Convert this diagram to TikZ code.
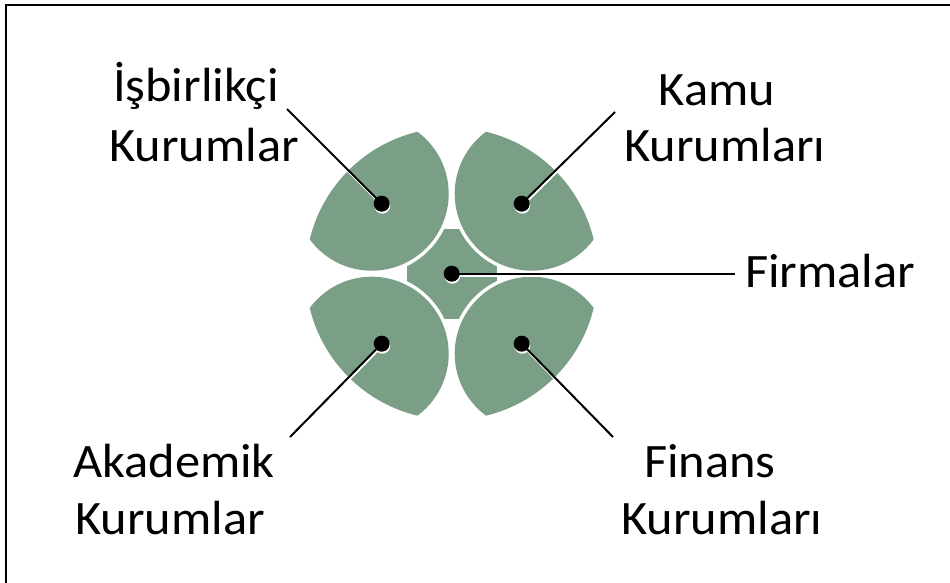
\documentclass[tikz,border=0pt]{standalone}
\usepackage{fontspec}
\setmainfont{Carlito}[FakeStretch=1.05]
\usetikzlibrary{calc}
\definecolor{petal}{HTML}{7A9F86}
\begin{document}
\begin{tikzpicture}[x=1pt,y=-1pt,
  lbl/.style={font=\fontsize{48}{57}\selectfont, inner sep=0pt, anchor=base},
  dot/.style={circle, fill=black, minimum size=16pt, inner sep=0pt},
  dotshade/.style={circle, fill=white, minimum size=16pt, inner sep=0pt},
  leader/.style={line width=2pt, black},
  leadershade/.style={line width=2pt, white}]
\useasboundingbox (0,0) rectangle (950,583);
% frame edges
\draw[line width=2pt] (5.7,583) -- (5.7,5) -- (950,5);
\coordinate (C) at (451.7,273.7);
% centre shape: square with four concave cut-outs
\fill[petal] ($(C)+(-45,-45)$) rectangle ($(C)+(45,45)$);
% four petals, each a disk trimmed by the outer circle
\foreach \sx/\sy in {-1/-1,1/-1,-1/1,1/1}{
  \fill[white] ($(C)+(\sx*80,\sy*80)$) circle (80.5pt);
  \begin{scope}
    \clip (C) circle (146pt);
    \fill[petal] ($(C)+(\sx*80,\sy*80)$) circle (77pt);
  \end{scope}
}
% anchor points
\coordinate (pTL) at ($(C)+(-70,-70)$);
\coordinate (pTR) at ($(C)+(70,-70)$);
\coordinate (pBL) at ($(C)+(-70,70)$);
\coordinate (pBR) at ($(C)+(70,70)$);
\coordinate (eTL) at (287,109);
\coordinate (eTR) at (615,112);
\coordinate (eF) at (735,273.7);
\coordinate (eBL) at (290,437);
\coordinate (eBR) at (613,437);
% light offset under each leader
\foreach \p/\e in {pTL/eTL,pTR/eTR,C/eF,pBL/eBL,pBR/eBR}{
  \draw[leadershade] ([shift={(0.8,2)}]\p) -- ([shift={(0.8,2)}]\e);
  \node[dotshade] at ([shift={(0.6,2)}]\p) {};
}
% leaders and dots
\node[dot] (dTL) at (pTL) {};
\node[dot] (dTR) at (pTR) {};
\node[dot] (dC) at (C) {};
\node[dot] (dBL) at (pBL) {};
\node[dot] (dBR) at (pBR) {};
\draw[leader] (dTL.center) -- (eTL);
\draw[leader] (dTR.center) -- (eTR);
\draw[leader] (dC.center) -- (eF);
\draw[leader] (dBL.center) -- (eBL);
\draw[leader] (dBR.center) -- (eBR);
% labels
\node[lbl] (tTL1) at (196,102) {İşbirlikçi};
\node[lbl] (tTL2) at (204,161) {Kurumlar};
\node[lbl] (tTR1) at (717,106) {Kamu};
\node[lbl] (tTR2) at (725,161) {Kurumları};
\node[lbl] (tF) at (830,287) {Firmalar};
\node[lbl] (tBL1) at (174,477) {Akademik};
\node[lbl] (tBL2) at (170,534) {Kurumlar};
\node[lbl] (tBR1) at (710,477) {Finans};
\node[lbl] (tBR2) at (722,534) {Kurumları};
\end{tikzpicture}
\end{document}
